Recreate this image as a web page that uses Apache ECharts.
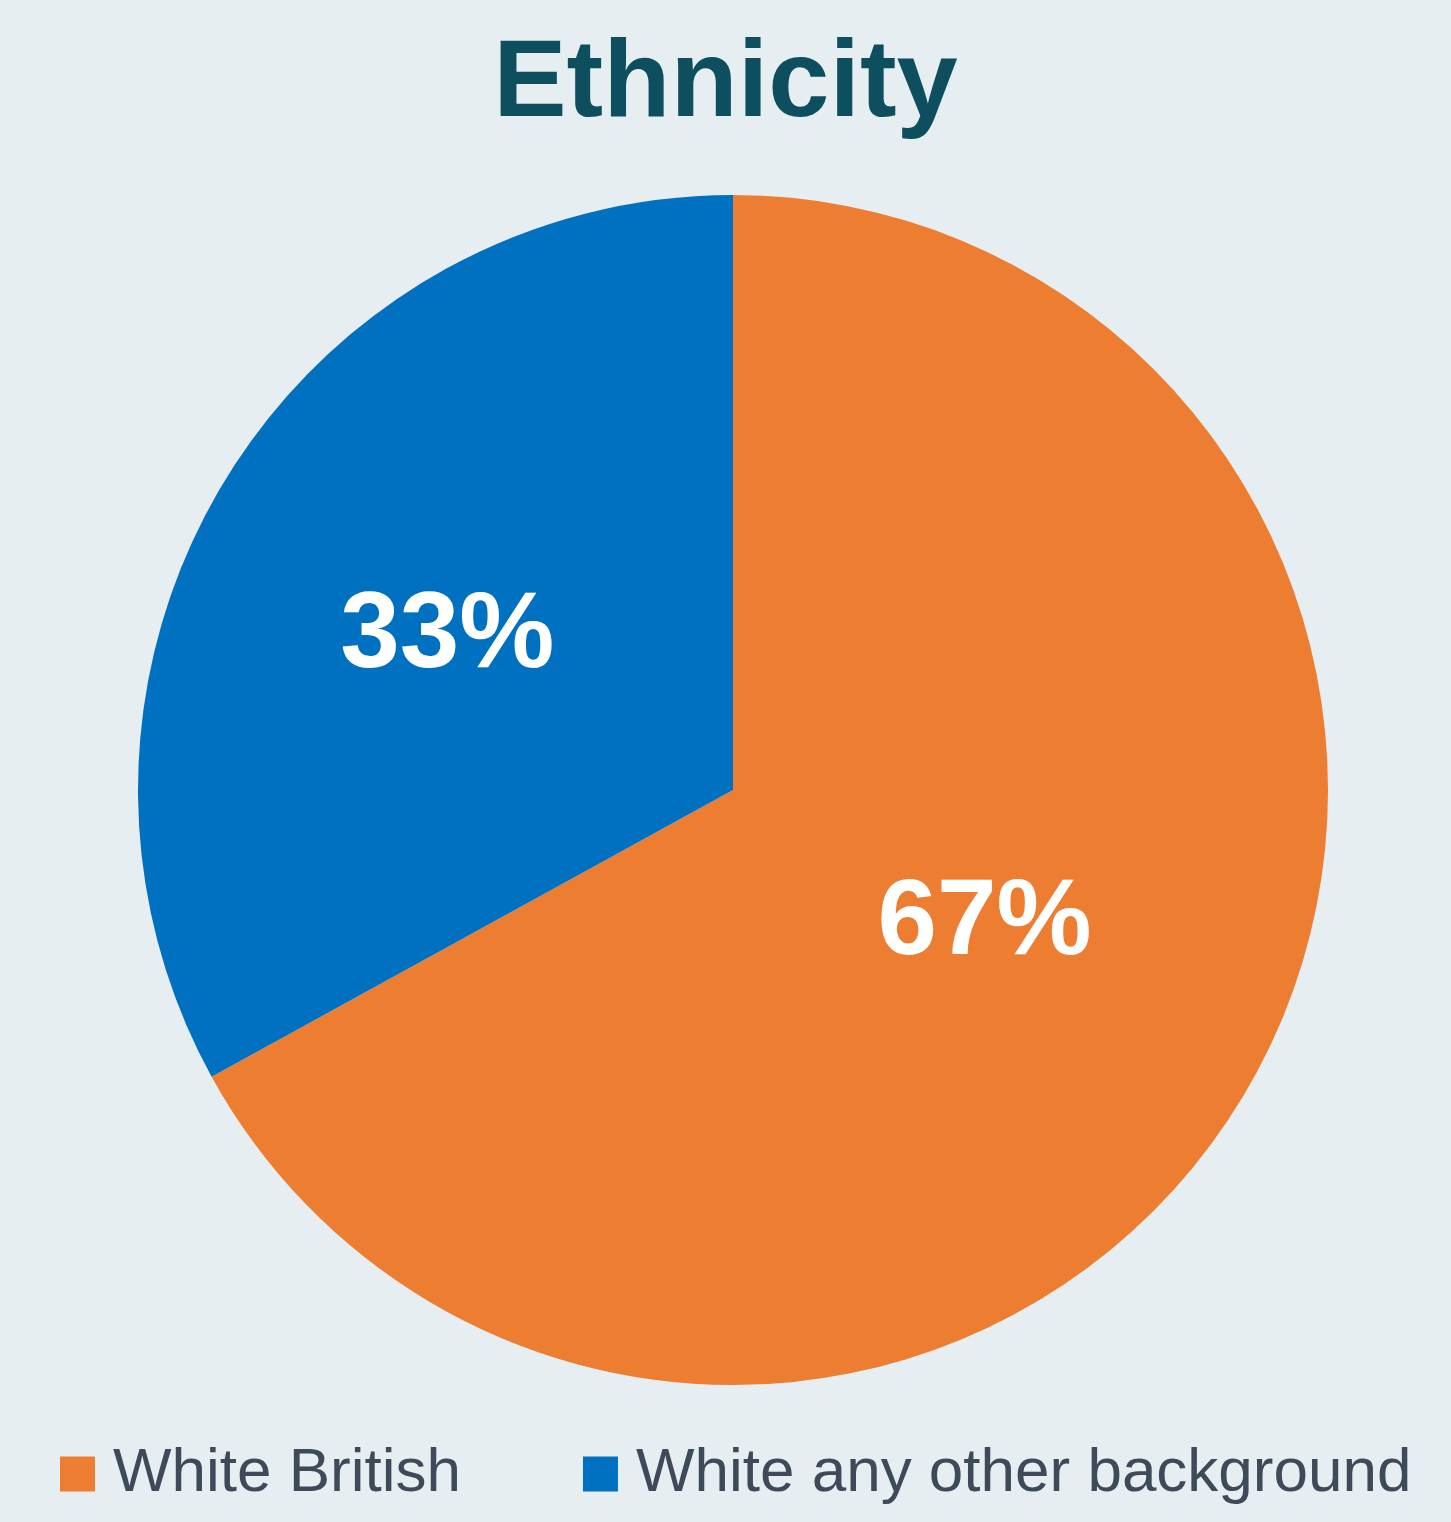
<!DOCTYPE html>
<html>
<head>
<meta charset="utf-8">
<script src="https://cdn.jsdelivr.net/npm/echarts@6/dist/echarts.min.js"></script>
<style>
html,body{margin:0;padding:0;background:#E6EEF1;}
#chart{width:1451px;height:1522px;}
</style>
</head>
<body>
<div id="chart"></div>
<script>
const titleText = 'Ethnicity';
const categories = ['White British', 'White any other background'];
const values = [67, 33];
const colors = ['#ED7D31', '#0070C0'];
const labelOffsets = [[-7, -18], [-27, 0]];

const chart = echarts.init(document.getElementById('chart'), null, {renderer: 'canvas'});
chart.setOption({
  backgroundColor: '#E6EEF1',
  animation: false,
  title: {
    text: titleText,
    left: 'center',
    top: 26,
    textStyle: {
      fontFamily: 'Liberation Sans, Arial, sans-serif',
      fontWeight: 'bold',
      fontSize: 110,
      color: '#0D4F5E'
    }
  },
  legend: {
    bottom: 12,
    left: 55,
    icon: 'rect',
    itemWidth: 35,
    itemHeight: 35,
    itemGap: 122,
    textStyle: {
      fontFamily: 'Liberation Sans, Arial, sans-serif',
      fontSize: 62,
      color: '#3E4A5A',
      padding: [0, 0, 0, 13]
    },
    data: categories
  },
  series: [{
    type: 'pie',
    center: [733, 790],
    radius: [0, 595],
    startAngle: 90,
    clockwise: true,
    avoidLabelOverlap: false,
    label: {
      show: true,
      position: 'inside',
      formatter: '{c}%',
      fontFamily: 'Liberation Sans, Arial, sans-serif',
      fontWeight: 'bold',
      fontSize: 107,
      color: '#FFFFFF'
    },
    labelLine: {show: false},
    itemStyle: {borderWidth: 0},
    emphasis: {disabled: true},
    data: categories.map((c, i) => ({
      name: c,
      value: values[i],
      itemStyle: {color: colors[i]},
      label: {offset: labelOffsets[i]}
    }))
  }]
});
</script>
</body>
</html>
